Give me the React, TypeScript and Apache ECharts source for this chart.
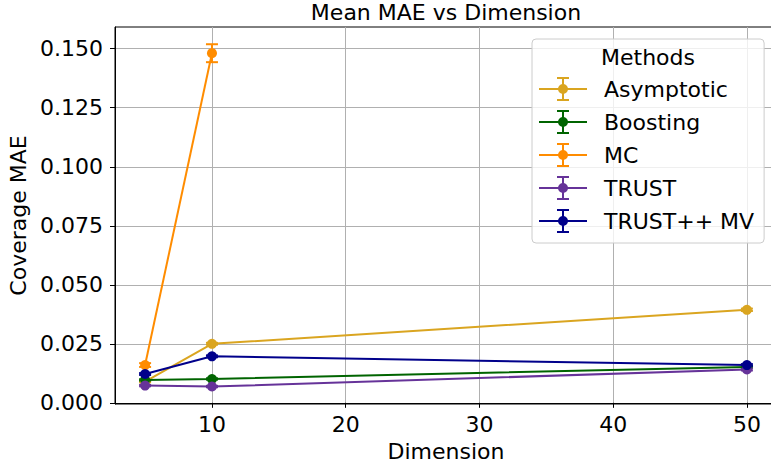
import React, { useEffect, useRef } from "react";
import * as echarts from "echarts";

const dimensions = [5, 10, 50];
const methods = ["Asymptotic", "Boosting", "MC", "TRUST", "TRUST++ MV"];
const colors = ["#DAA520", "#006400", "#FF8C00", "#663399", "#00008B"];

const asymptotic = [0.0090, 0.0250, 0.0394];
const boosting = [0.0097, 0.0101, 0.0152];
const mc = [0.0160, 0.1481, null];
const trust = [0.0073, 0.0069, 0.0141];
const trustPP = [0.0122, 0.0197, 0.0160];

const asymptoticErr = [0.0003, 0.0004, 0.0005];
const boostingErr = [0.0003, 0.0003, 0.0004];
const mcErr = [0.0008, 0.0038, null];
const trustErr = [0.0003, 0.0003, 0.0004];
const trustPPErr = [0.0004, 0.0004, 0.0004];

const xTicks = [10, 20, 30, 40, 50];
const yTicks = [0, 0.025, 0.05, 0.075, 0.1, 0.125, 0.15];

const FONT = "DejaVu Sans";

const legendIcon =
  "path://M0,11 L48,11 L48,13 L0,13 Z M23,1 L25,1 L25,23 L23,23 Z M18,0 L30,0 L30,2 L18,2 Z M18,22 L30,22 L30,24 L18,24 Z M19,12 A5,5 0 1,1 29,12 A5,5 0 1,1 19,12 Z";

export default function App() {
  const ref = useRef<HTMLDivElement>(null);
  useEffect(() => {
    if (!ref.current) return;
    const chart = echarts.init(ref.current, null, { renderer: "svg" });
    const values = [asymptotic, boosting, mc, trust, trustPP];
    const errs = [asymptoticErr, boostingErr, mcErr, trustErr, trustPPErr];
    const series: any[] = [];
    methods.forEach((name, i) => {
      const color = colors[i];
      const pts: any[] = [];
      const errPts: any[] = [];
      dimensions.forEach((d, j) => {
        const v = values[i][j];
        const e = errs[i][j];
        if (v == null) return;
        pts.push([d, v]);
        if (e != null) errPts.push([d, v - e, v + e]);
      });
      series.push({
        name,
        type: "line",
        data: pts,
        symbol: "circle",
        symbolSize: 10,
        showSymbol: true,
        lineStyle: { color, width: 2 },
        itemStyle: { color, borderWidth: 0 },
        emphasis: { disabled: true },
      });
      series.push({
        name: name + " err",
        type: "custom",
        data: errPts,
        encode: { x: 0, y: [1, 2] },
        silent: true,
        renderItem: (params: any, api: any) => {
          const x = api.value(0);
          const p1 = api.coord([x, api.value(1)]);
          const p2 = api.coord([x, api.value(2)]);
          const cw = 6;
          const style = { stroke: color, lineWidth: 2 };
          return {
            type: "group",
            children: [
              { type: "line", shape: { x1: p1[0], y1: p1[1], x2: p2[0], y2: p2[1] }, style },
              { type: "line", shape: { x1: p1[0] - cw, y1: p1[1], x2: p1[0] + cw, y2: p1[1] }, style },
              { type: "line", shape: { x1: p2[0] - cw, y1: p2[1], x2: p2[0] + cw, y2: p2[1] }, style },
            ],
          };
        },
      });
    });

    chart.setOption({
      animation: false,
      textStyle: { fontFamily: FONT },
      grid: {
        left: 115,
        width: 662,
        top: 27,
        bottom: 66,
        containLabel: false,
        outerBoundsMode: "none",
        show: true,
        borderColor: "#000",
        borderWidth: 1,
        backgroundColor: "transparent",
      },
      xAxis: {
        type: "value",
        min: 2.75,
        max: 52.25,
        name: "Dimension",
        nameLocation: "middle",
        nameGap: 36,
        nameTextStyle: { fontSize: 22, color: "#000", fontFamily: FONT },
        axisLine: { show: true, lineStyle: { color: "#000", width: 1 } },
        axisTick: { show: true, length: 5, customValues: xTicks, lineStyle: { color: "#000" } },
        axisLabel: {
          customValues: xTicks,
          fontSize: 22,
          color: "#000",
          margin: 9,
          fontFamily: FONT,
        },
        splitLine: { show: true, lineStyle: { color: "#b0b0b0", width: 1 } },
      },
      yAxis: {
        type: "value",
        min: -0.0005,
        max: 0.1592,
        name: "Coverage MAE",
        nameLocation: "middle",
        nameGap: 83,
        nameRotate: 90,
        nameTextStyle: { fontSize: 22, color: "#000", fontFamily: FONT },
        axisLine: { show: true, lineStyle: { color: "#000", width: 1 } },
        axisTick: { show: true, length: 5, customValues: yTicks, lineStyle: { color: "#000" } },
        axisLabel: {
          customValues: yTicks,
          fontSize: 22,
          color: "#000",
          margin: 12,
          fontFamily: FONT,
          formatter: (v: number) => v.toFixed(3),
        },
        splitLine: { show: true, lineStyle: { color: "#b0b0b0", width: 1 } },
      },
      legend: {
        data: methods,
        orient: "vertical",
        left: 532,
        top: 39,
        padding: [38, 10, 10, 7],
        itemGap: 9,
        itemWidth: 48,
        itemHeight: 24,
        icon: legendIcon,
        itemStyle: { borderWidth: 0 },
        textStyle: {
          fontSize: 22,
          color: "#000",
          fontFamily: FONT,
          padding: [0, 0, 0, 12],
        },
        backgroundColor: "rgba(255,255,255,0.8)",
        borderColor: "#cccccc",
        borderWidth: 1,
        borderRadius: 4,
        selectedMode: false,
      },
      graphic: [
        {
          type: "text",
          x: 446,
          y: 12,
          z: 100,
          style: {
            text: "Mean MAE vs Dimension",
            font: `22px '${FONT}'`,
            fill: "#000",
            align: "center",
            verticalAlign: "middle",
          },
        },
        {
          type: "text",
          x: 648,
          y: 57,
          z: 100,
          style: {
            text: "Methods",
            font: `22px '${FONT}'`,
            fill: "#000",
            align: "center",
            verticalAlign: "middle",
          },
        },
      ],
      series,
    });
    return () => chart.dispose();
  }, []);
  return (
    <div
      ref={ref}
      style={{ position: "absolute", left: 0, top: 0, width: 771, height: 470 }}
    />
  );
}
